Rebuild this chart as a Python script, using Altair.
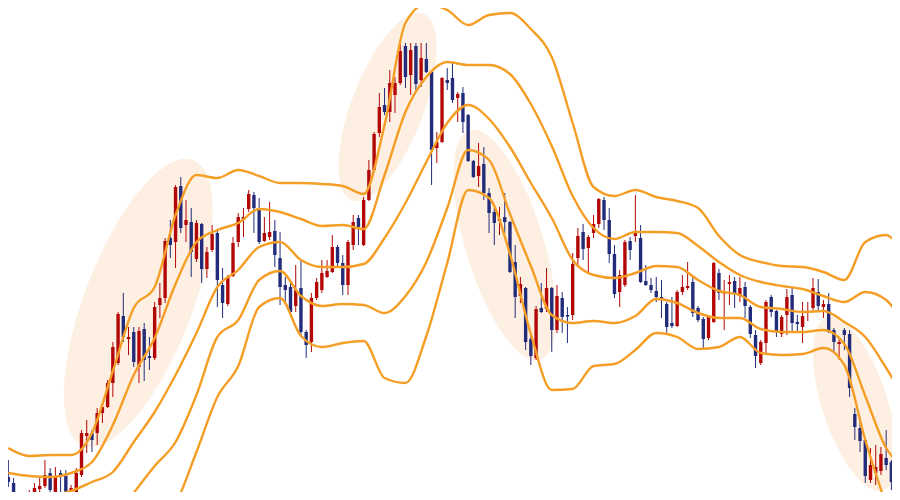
import altair as alt
import pandas as pd

# ---------------- candle data (index, price units) ----------------
open_ = [23, 17, -12, -8, -6, -2, 11, 14, 27, 7,
         27, 24, -2, 0, 25, 64, 67, 67, 87, 93,
         117, 137, 184, 161, 168, 133, 171, 144, 142, 195,
         202, 262, 258, 314, 275, 278, 241, 276, 231, 250,
         267, 215, 196, 224, 258, 280, 291, 305, 292, 259,
         263, 269, 242, 215, 213, 194, 212, 168, 158, 202,
         210, 223, 228, 253, 237, 215, 255, 282, 255, 300,
         330, 367, 395, 388, 405, 417, 454, 425, 454, 420,
         441, 428, 352, 358, 420, 422, 402, 407, 385, 339,
         324, 336, 307, 288, 279, 283, 278, 238, 204, 212,
         161, 142, 192, 191, 212, 170, 202, 185, 185, 242,
         268, 252, 267, 276, 300, 280, 246, 208, 215, 259,
         264, 262, 219, 215, 209, 203, 196, 177, 174, 208,
         212, 218, 192, 181, 162, 178, 227, 206.5, 216, 219,
         204, 213, 193, 165, 137, 157, 203, 189, 166, 185,
         205, 178, 173, 187.5, 192, 208, 193, 196, 170, 156,
         170, 166, 86, 72, 60, 20, 27, 29, 42, 38]
close = [18, -5, 0, 3, 3, 12, 14, 25, 10, 24,
         23, -3, 12, 27, 67, 67, 60, 87, 93, 117,
         153, 186, 163, 163, 138, 169, 140, 142, 193, 202,
         259, 255, 313, 272, 280, 248, 277, 231, 248, 266,
         220, 197, 223, 257, 283, 283, 306, 292, 258, 267,
         268, 245, 213, 210, 188, 210, 168, 155, 202, 218,
         227, 229, 253, 237, 215, 258, 278, 273, 300, 330,
         366, 393, 388, 417, 417, 449, 423, 450, 416, 442,
         428, 350, 358, 422, 417, 400, 406, 378, 339, 323,
         334, 307, 287, 277, 281, 278, 228, 203, 216, 158,
         144, 191, 188, 212, 170, 204, 183, 183.5, 236, 264,
         251, 263, 276, 301, 280, 246, 206, 225, 258, 250,
         268, 218, 215, 210, 203, 201, 173, 174, 208, 213,
         214, 187, 180, 161, 183, 237, 207, 208, 218, 207,
         212, 194, 166, 144, 158, 198, 188, 168, 183, 203,
         177, 176, 184, 189, 212, 194, 196, 168, 158, 158,
         165, 112, 73, 59, 24, 35, 33, 46, 35, 18]
high = [40, 22, 4, 6, 10, 17, 22, 40, 32, 33,
        30, 30, 15, 32, 70, 80, 70, 92, 97, 120,
        158, 188, 207, 173, 173, 173, 177, 163, 198, 217,
        262, 280, 315, 323, 300, 292, 280, 277, 253, 275,
        270, 232, 225, 263, 287, 292, 310, 308, 302, 283,
        298, 280, 268, 223, 218, 235, 240, 170, 207, 222,
        240, 240, 265, 255, 245, 260, 285, 285, 303, 340,
        368, 407, 412, 430, 423, 458, 457, 457, 457, 457,
        457, 428, 368, 423, 432, 437, 408, 413, 386, 340,
        357, 353, 312, 292, 293, 307, 279, 255, 223, 213,
        164, 194, 217, 232, 213, 215, 208, 193, 247, 272,
        276, 265, 285, 302, 303, 292, 255, 230, 260, 263,
        305, 275, 235, 222, 223, 220, 198, 203, 210, 225,
        238, 223, 194, 183, 185, 238, 231, 220, 225, 223,
        223, 218, 195, 170, 160, 200, 205, 190, 185, 211,
        212, 185, 198, 198, 222, 221, 200, 207, 172, 162,
        172, 170, 92, 83, 62, 52, 55, 53, 70, 40]
low = [13, -10, -16, -12, -10, -6, 5, 12, 5, 5,
       7, -7, -5, -3, 23, 47, 48, 55, 77, 92,
       103, 135, 158, 145, 133, 117, 119, 130, 140, 182,
       197, 242, 232, 267, 258, 223, 238, 217, 222, 248,
       193, 182, 194, 223, 253, 263, 288, 267, 256, 258,
       260, 233, 195, 198, 187, 188, 163, 142, 148, 200,
       207, 222, 227, 233, 205, 205, 250, 255, 254, 299,
       328, 363, 385, 378, 387, 415, 412, 405, 410, 413,
       427, 315, 337, 357, 410, 397, 378, 367, 338, 322,
       313, 300, 267, 255, 265, 267, 227, 182, 197, 150,
       135, 140, 187, 188, 148, 167, 167, 157, 180, 233,
       240, 227, 262, 272, 270, 237, 202, 193, 213, 240,
       258, 217, 214, 207, 198, 182, 167, 172, 173, 205,
       210, 183, 178, 150, 160, 177, 200, 170, 195, 192,
       198, 182, 162, 132, 135, 147, 183, 163, 163, 165,
       168, 167, 157, 179, 190, 190, 182, 167, 148, 140,
       150, 103, 60, 48, 17, 17, 15, 25, 30, 10]

# ---------------- band data (sampled every 4 candles) ----------------
band_idx = list(range(0, 169, 4)) + [170]
upper2 = [52, 44, 45, 45, 67, 129, 192, 213, 285, 325, 322, 330, 324, 317, 317,
          316, 314, 306, 375, 477, 496, 490, 475, 485, 487, 471, 443, 377, 313,
          304, 310, 303, 299, 292, 264, 245, 238, 234, 233, 228, 220, 258, 265, 257]
upper1 = [27, 24, 23, 27, 38, 75, 125, 162, 216, 258, 270, 277, 291, 288, 281,
          274, 275, 271, 325, 388, 423, 438, 435, 435, 426, 396, 354, 304, 272,
          261, 268, 268, 267, 254, 238, 225, 218, 214, 211, 204, 198, 208, 200, 188]
middle = [3, 5, 5, 9, 18, 28, 58, 88, 125, 167, 213, 230, 253, 258, 240,
          233, 233, 236, 262, 297, 338, 377, 395, 381, 353, 317, 282, 240, 225,
          222, 227, 234, 233, 220, 209, 205, 193, 191, 188, 189, 178, 163, 132, 115]
lower1 = [None] * 5 + [-22, 7, 34, 58, 105, 163, 180, 220, 229, 204, 194, 196, 195,
          187, 204, 238, 292, 350, 340, 286, 234, 185, 177, 179, 177, 184, 201,
          197, 187, 182, 182, 171, 168, 168, 170, 156, 104, 52, 38]
lower2 = [None] * 7 + [-30, -4, 48, 103, 134, 193, 202, 164, 153, 157, 159, 122,
          117, 164, 237, 310, 302, 246, 166, 110, 111, 134, 136, 150, 167, 163,
          151, 153, 163, 147, 145, 146, 152, 135, 60, -5, -35]

# highlighted zones: centre (candle index, price)
zone_x = [24.9, 72.6, 95.0, 162.0]
zone_y = [197, 393, 255, 96]

# ---------------- styling ----------------
RED = "#B30707"
NAVY = "#222C7A"
ORANGE = "#F59E25"
ZONE = "#FDF0E2"

xs = alt.Scale(domain=[0.89, 168.16], nice=False, zero=False)
ys = alt.Scale(domain=[8, 492], nice=False, zero=False)

candles = pd.DataFrame({"i": list(range(len(open_))), "open": open_, "close": close,
                        "high": high, "low": low})
candles["dir"] = ["up" if c >= o else "down" for o, c in zip(open_, close)]

rows = []
for name, vals in [("u2", upper2), ("u1", upper1), ("m", middle), ("l1", lower1), ("l2", lower2)]:
    for xi, v in zip(band_idx, vals):
        if v is not None:
            rows.append({"i": xi, "v": v, "band": name})
bands = pd.DataFrame(rows)

color = alt.Color("dir:N", scale=alt.Scale(domain=["up", "down"], range=[RED, NAVY]), legend=None)


def ellipse_path(r, k=0.5523):
    kr = k * r
    return (f"M0,-1C{kr:.4f},-1,{r:.4f},-{k},{r:.4f},0"
            f"C{r:.4f},{k},{kr:.4f},1,0,1"
            f"C-{kr:.4f},1,-{r:.4f},{k},-{r:.4f},0"
            f"C-{r:.4f},-{k},-{kr:.4f},-1,0,-1Z")

# (minor/major ratio, symbol size, rotation)
zone_style = [(0.353, 93636, 21), (0.36, 40000, 21), (0.325, 57600, 343), (0.36, 33124, 342)]

layers = []
for (cx, cy), (r, sz, ang) in zip(zip(zone_x, zone_y), zone_style):
    zdf = pd.DataFrame({"i": [cx], "v": [cy]})
    layers.append(
        alt.Chart(zdf).mark_point(shape=ellipse_path(r), size=sz, angle=ang, filled=True,
                                  color=ZONE, opacity=1, strokeWidth=0, clip=True)
        .encode(x=alt.X("i:Q", scale=xs, axis=None), y=alt.Y("v:Q", scale=ys, axis=None))
    )

base = alt.Chart(candles)
wicks = base.mark_rule(strokeWidth=1, clip=True).encode(
    x=alt.X("i:Q", scale=xs, axis=None),
    y=alt.Y("low:Q", scale=ys, axis=None), y2="high:Q", color=color)
bodies = base.mark_bar(size=3.4, clip=True).encode(
    x=alt.X("i:Q", scale=xs, axis=None),
    y=alt.Y("open:Q", scale=ys, axis=None), y2="close:Q", color=color)

lines = alt.Chart(bands).mark_line(color=ORANGE, strokeWidth=2.4, interpolate="monotone", clip=True).encode(
    x=alt.X("i:Q", scale=xs, axis=None),
    y=alt.Y("v:Q", scale=ys, axis=None),
    detail="band:N", order="i:Q")

chart = alt.layer(*layers, wicks, bodies, lines).properties(
    width=884, height=484, padding=0, autosize="none", background="white"
).configure_view(stroke=None)

chart.save("out.html", embed_options={"renderer": "svg", "actions": False})
